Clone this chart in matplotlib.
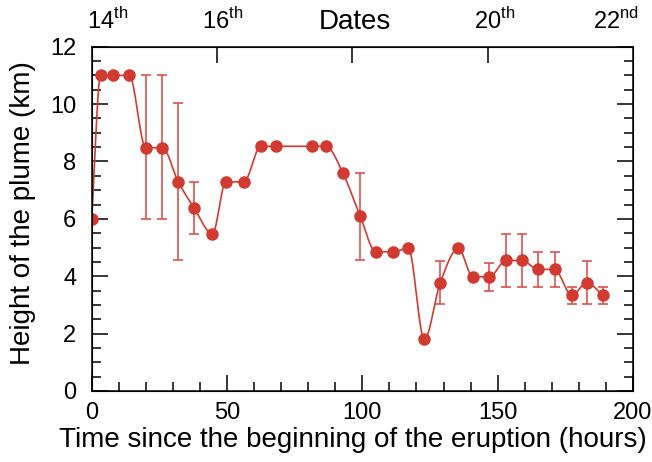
import numpy as np
import matplotlib
matplotlib.use("Agg")
import matplotlib.pyplot as plt

plt.rcParams["font.family"] = ["Liberation Sans", "DejaVu Sans"]
plt.rcParams["mathtext.fontset"] = "custom"
plt.rcParams["mathtext.rm"] = "Liberation Sans"

# hours since the start of the eruption, plume height (km)
hours = [0.0, 3.3, 8.0, 13.9, 20.0, 26.1, 32.0, 37.9, 44.6, 49.6, 56.2,
         62.5, 68.0, 81.4, 86.5, 92.8, 99.2, 105.0, 111.2, 117.0, 122.9,
         128.8, 135.5, 140.8, 146.9, 153.1, 158.9, 165.0, 171.0, 177.4,
         182.9, 188.8]
height = [6.0, 11.0, 11.0, 11.0, 8.48, 8.48, 7.29, 6.37, 5.48, 7.29, 7.29,
          8.53, 8.53, 8.53, 8.53, 7.6, 6.1, 4.85, 4.85, 4.97, 1.8,
          3.78, 4.97, 3.98, 3.98, 4.55, 4.55, 4.24, 4.24, 3.33,
          3.78, 3.33]
# error bar ranges (nan = no bar)
nan = np.nan
err_low = [nan, nan, nan, nan, 6.0, 6.0, 4.55, 5.48, nan, nan, nan,
           nan, nan, nan, nan, nan, 4.57, nan, nan, nan, nan,
           3.03, nan, nan, 3.49, 3.64, 3.64, 3.64, 3.64, 3.03,
           3.03, 3.03]
err_high = [nan, nan, nan, nan, 11.0, 11.0, 10.05, 7.29, nan, nan, nan,
            nan, nan, nan, nan, nan, 7.61, nan, nan, nan, nan,
            4.54, nan, nan, 4.47, 5.47, 5.47, 4.86, 4.86, 3.64,
            4.54, 3.64]

date_ticks = [46.2, 96.1, 146.3]
date_label_pos = [6.0, 48.5, 148.9, 193.8]
date_labels = ["14$^{\\rm th}$", "16$^{\\rm th}$", "20$^{\\rm th}$", "22$^{\\rm nd}$"]

red = "#d03a30"

x = np.array(hours)
y = np.array(height)
lo = y - np.array(err_low)
hi = np.array(err_high) - y


# smooth curve through the points (cubic Hermite, flat at turning points)
def smooth(x, y, n=30):
    d = np.diff(y) / np.diff(x)
    m = np.zeros_like(y)
    for i in range(1, len(y) - 1):
        if d[i - 1] * d[i] > 0:
            m[i] = (y[i + 1] - y[i - 1]) / (x[i + 1] - x[i - 1])
    m[0] = d[0]
    m[-1] = d[-1]
    xs, ys = [], []
    for i in range(len(x) - 1):
        h = x[i + 1] - x[i]
        t = np.linspace(0, 1, n, endpoint=False)
        h00 = 2 * t**3 - 3 * t**2 + 1
        h10 = t**3 - 2 * t**2 + t
        h01 = -2 * t**3 + 3 * t**2
        h11 = t**3 - t**2
        xs.append(x[i] + t * h)
        ys.append(h00 * y[i] + h10 * h * m[i] + h01 * y[i + 1] + h11 * h * m[i + 1])
    xs.append([x[-1]])
    ys.append([y[-1]])
    return np.concatenate(xs), np.concatenate(ys)


fig = plt.figure(figsize=(6.52, 4.62), dpi=100)
ax = fig.add_axes([0.1406, 0.1537, 0.8303, 0.7452])

sx, sy = smooth(x, y)
ax.plot(sx, sy, color=red, lw=1.2, zorder=2)
ax.errorbar(x, y, yerr=[lo, hi], fmt="none", ecolor="#d9534f", elinewidth=1.2,
            capsize=3.5, capthick=1.2, zorder=1)
ax.plot(x, y, "o", color=red, ms=8, zorder=3)

ax.set_xlim(0, 200)
ax.set_ylim(0, 12)
ax.set_xticks(np.arange(0, 201, 50))
ax.set_xticks(np.arange(0, 201, 10), minor=True)
ax.set_yticks(np.arange(0, 13, 2))
ax.set_yticks(np.arange(0, 12.1, 0.5), minor=True)
ax.tick_params(which="both", direction="in", top=False, right=True, width=1.1)
ax.tick_params(which="major", length=11.5)
ax.tick_params(which="minor", length=6.5)
ax.tick_params(axis="x", labelsize=17, pad=8)
ax.tick_params(axis="y", labelsize=17, pad=11)
for s in ax.spines.values():
    s.set_linewidth(1.1)

ax.set_xlabel("Time since the beginning of the eruption (hours)", fontsize=20)
ax.xaxis.set_label_coords(0.483, -0.105)
ax.set_ylabel("Height of the plume (km)", fontsize=20)
ax.yaxis.set_label_coords(-0.103, 0.518)

top = ax.twiny()
top.set_xlim(0, 200)
top.set_xticks(date_ticks)
top.set_xticklabels([])
top.set_xticks(date_label_pos, minor=True)
top.set_xticklabels(date_labels, minor=True, fontsize=17)
top.tick_params(which="major", direction="in", length=11.5, width=1.1)
top.tick_params(which="minor", length=0, pad=9)
ax.text(0.486, 1.05, "Dates", transform=ax.transAxes, ha="center",
        va="baseline", fontsize=20)

fig.savefig("out.png", dpi=100)
